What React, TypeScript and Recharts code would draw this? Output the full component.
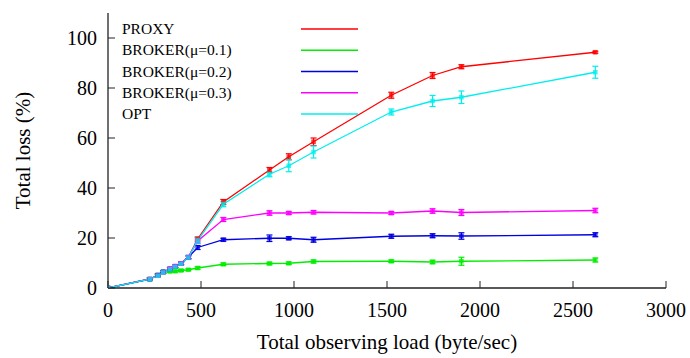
import React from 'react';
import { LineChart, Line, XAxis, YAxis, ErrorBar } from 'recharts';

const loads = [0, 225, 268, 297, 333, 362, 393, 432, 482, 620, 868, 972, 1105, 1523, 1745, 1900, 2620];

const proxy = [0, 3.6, 5.0, 6.3, 7.6, 8.6, 9.8, 12.3, 19.6, 34.4, 47.2, 52.5, 58.5, 77.1, 85.0, 88.5, 94.3];
const proxyErr = [0, 0.5, 0.5, 0.5, 0.5, 0.5, 0.5, 0.6, 0.8, 1.0, 1.0, 1.2, 1.5, 1.2, 1.2, 0.8, 0.4];

const broker1 = [0, 3.5, 5.2, 6.5, 6.6, 6.7, 7.0, 7.3, 8.0, 9.5, 9.8, 9.9, 10.6, 10.7, 10.4, 10.7, 11.2];
const broker1Err = [0, 0.4, 0.4, 0.4, 0.4, 0.4, 0.4, 0.4, 0.5, 0.5, 0.5, 0.5, 0.6, 0.5, 0.7, 1.6, 0.8];

const broker2 = [0, 3.5, 5.2, 6.5, 7.6, 8.6, 9.8, 12.3, 16.2, 19.3, 19.9, 19.9, 19.3, 20.7, 20.9, 20.8, 21.3];
const broker2Err = [0, 0.4, 0.5, 0.5, 0.5, 0.5, 0.5, 0.6, 0.8, 0.6, 1.3, 0.6, 1.0, 0.8, 0.8, 1.3, 0.8];

const broker3 = [0, 3.6, 5.0, 6.3, 7.8, 8.8, 9.9, 12.4, 18.8, 27.4, 30.0, 30.0, 30.3, 30.0, 30.8, 30.2, 31.0];
const broker3Err = [0, 0.4, 0.5, 0.5, 0.5, 0.5, 0.5, 0.6, 0.8, 0.8, 0.9, 0.6, 0.7, 0.6, 0.9, 1.2, 0.9];

const opt = [0, 3.5, 4.9, 6.2, 7.5, 8.5, 9.7, 12.2, 19.0, 33.5, 45.5, 48.9, 54.4, 70.4, 74.8, 76.3, 86.3];
const optErr = [0, 0.5, 0.5, 0.5, 0.5, 0.5, 0.5, 0.8, 1.2, 1.0, 1.0, 2.4, 2.4, 1.2, 2.2, 2.5, 2.4];

const seriesNames = ['PROXY', 'BROKER(\u03bc=0.1)', 'BROKER(\u03bc=0.2)', 'BROKER(\u03bc=0.3)', 'OPT'];
const seriesValues = [proxy, broker1, broker2, broker3, opt];
const seriesErrors = [proxyErr, broker1Err, broker2Err, broker3Err, optErr];
const seriesColors = ['#ff0000', '#00ee00', '#0000e0', '#ff00ff', '#00eeee'];

const xTicks = [0, 500, 1000, 1500, 2000, 2500, 3000];
const yTicks = [0, 20, 40, 60, 80, 100];

const xTitle = 'Total observing load (byte/sec)';
const yTitle = 'Total loss (%)';

const data = loads.map((x, i) => {
  const row: Record<string, number> = { x };
  seriesValues.forEach((vals, s) => {
    row[`s${s}`] = vals[i];
    row[`e${s}`] = seriesErrors[s][i];
  });
  return row;
});

const FONT = '"Liberation Serif", "Times New Roman", serif';
const AXIS = '#222';
const TICK_LEN = 7;

const txt = (size: number) => ({ fontFamily: FONT, fontSize: size, fill: '#000' });

const BottomTick = (p: any) => (
  <g>
    <line x1={p.x} y1={p.y} x2={p.x} y2={p.y - TICK_LEN} stroke={AXIS} strokeWidth={1} />
    <text x={p.x} y={p.y + 29} textAnchor="middle" style={txt(20)}>
      {p.payload.value}
    </text>
  </g>
);

const TopTick = (p: any) => (
  <line x1={p.x} y1={p.y} x2={p.x} y2={p.y + TICK_LEN} stroke={AXIS} strokeWidth={1} />
);

const LeftTick = (p: any) => (
  <g>
    <line x1={p.x} y1={p.y} x2={p.x + TICK_LEN} y2={p.y} stroke={AXIS} strokeWidth={1} />
    <text x={p.x - 11} y={p.y + 7} textAnchor="end" style={txt(20)}>
      {p.payload.value}
    </text>
  </g>
);

const RightTick = (p: any) => (
  <line x1={p.x} y1={p.y} x2={p.x - TICK_LEN} y2={p.y} stroke={AXIS} strokeWidth={1} />
);

const XTitle = (p: any) => {
  const vb = p.viewBox;
  return (
    <text x={vb.x + vb.width / 2} y={vb.y + 61} textAnchor="middle" style={txt(21)}>
      {xTitle}
    </text>
  );
};

const YTitle = (p: any) => {
  const vb = p.viewBox;
  const cx = 23;
  const cy = vb.y + vb.height / 2;
  return (
    <text
      x={cx}
      y={cy}
      transform={`rotate(-90 ${cx} ${cy})`}
      textAnchor="middle"
      dominantBaseline="central"
      style={txt(21)}
    >
      {yTitle}
    </text>
  );
};

const makeDot = (color: string) => (p: any) => (
  <rect
    key={`d${p.index}`}
    x={p.cx - 2.3}
    y={p.cy - 2.3}
    width={4.6}
    height={4.6}
    fill={color}
    fillOpacity={0.75}
    stroke="none"
  />
);

const LegendOverlay = () => (
  <svg width={690} height={358} style={{ position: 'absolute', left: 0, top: 0, pointerEvents: 'none' }}>
    {seriesNames.map((name, i) => {
      const cy = 29 + i * 21.25;
      return (
        <g key={name}>
          <text x={122} y={cy + 5} style={txt(15.5)}>
            {name}
          </text>
          <line x1={301} y1={cy} x2={358} y2={cy} stroke={seriesColors[i]} strokeWidth={1.3} />
        </g>
      );
    })}
  </svg>
);

export default function App() {
  return (
    <div
      style={{
        position: 'absolute',
        left: 0,
        top: 0,
        width: 690,
        height: 358,
        background: '#fff',
        fontFamily: FONT,
      }}
    >
      <LineChart width={690} height={358} data={data} margin={{ top: 13, right: 24, bottom: 0, left: 0 }}>
        <XAxis
          xAxisId="b"
          type="number"
          dataKey="x"
          orientation="bottom"
          domain={[0, 3000]}
          ticks={xTicks}
          interval={0}
          allowDataOverflow
          height={70}
          tickSize={0}
          tickMargin={0}
          tickLine={false}
          tick={BottomTick}
          axisLine={{ stroke: AXIS, strokeWidth: 1.3 }}
          label={{ content: XTitle }}
        />
        <XAxis
          xAxisId="t"
          type="number"
          dataKey="x"
          orientation="top"
          domain={[0, 3000]}
          ticks={xTicks}
          interval={0}
          allowDataOverflow
          height={0}
          tickSize={0}
          tickMargin={0}
          tickLine={false}
          tick={TopTick}
          axisLine={{ stroke: AXIS, strokeWidth: 1.3 }}
        />
        <YAxis
          yAxisId="l"
          type="number"
          orientation="left"
          domain={[0, 110]}
          ticks={yTicks}
          interval={0}
          allowDataOverflow
          width={108}
          tickSize={0}
          tickMargin={0}
          tickLine={false}
          tick={LeftTick}
          axisLine={{ stroke: AXIS, strokeWidth: 1.3 }}
          label={{ content: YTitle }}
        />
        <YAxis
          yAxisId="r"
          type="number"
          orientation="right"
          domain={[0, 110]}
          ticks={yTicks}
          interval={0}
          allowDataOverflow
          width={0}
          tickSize={0}
          tickMargin={0}
          tickLine={false}
          tick={RightTick}
          axisLine={{ stroke: AXIS, strokeWidth: 1.3 }}
        />
        {seriesNames.map((name, s) => (
          <Line
            key={name}
            name={name}
            xAxisId="b"
            yAxisId="l"
            type="linear"
            dataKey={`s${s}`}
            stroke={seriesColors[s]}
            strokeWidth={1.3}
            dot={makeDot(seriesColors[s])}
            activeDot={false}
            isAnimationActive={false}
          >
            <ErrorBar dataKey={`e${s}`} direction="y" width={3} strokeWidth={1.2} stroke={seriesColors[s]} />
          </Line>
        ))}
      </LineChart>
      <LegendOverlay />
    </div>
  );
}
